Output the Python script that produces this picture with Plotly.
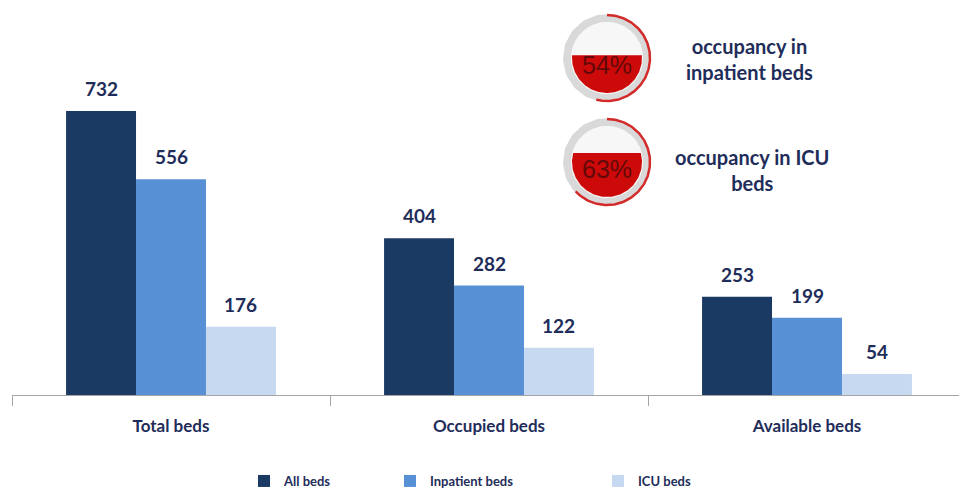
import numpy as np
import plotly.graph_objects as go

# ---- data ----
categories = ["Total beds", "Occupied beds", "Available beds"]
series_names = ["All beds", "Inpatient beds", "ICU beds"]
all_beds = [732, 404, 253]
inpatient_beds = [556, 282, 199]
icu_beds = [176, 122, 54]
occupancy_pct = [54, 63]
occupancy_labels = ["occupancy in<br>inpatient beds", "occupancy in ICU<br>beds"]

# ---- style ----
colors = ["#1b3a63", "#5890d6", "#c6d9f1"]
navy = "#1f2d5a"
FONT = "Lato"
W, H = 959, 493
ML, MR, MT, MB = 12, 0, 0, 98
BARGAP = 0.34

fig = go.Figure()
values = [all_beds, inpatient_beds, icu_beds]
legends = ["legend", "legend2", "legend3"]
for i, (name, vals) in enumerate(zip(series_names, values)):
    fig.add_trace(go.Bar(
        x=categories, y=vals, name=name, marker_color=colors[i],
        marker_line_width=0, legend=legends[i], cliponaxis=False,
    ))

# value labels above bars
w = (1 - BARGAP) / 3
annotations = []
for i, vals in enumerate(values):
    for j, v in enumerate(vals):
        annotations.append(dict(
            x=j + (i - 1) * w, y=v, xref="x", yref="y", text=f"<b>{v}</b>",
            showarrow=False, yanchor="bottom", yshift=9,
            font=dict(family=FONT, size=19, color=navy),
        ))

# ---- gauges (drawn in a pixel-space overlay axis) ----
gauge_centers = [(607, 58), (607, 162)]
label_pos = [(749, 59), (752, 170)]
R_RING, R_RED, R_FILL = 40, 43, 35
for (cx, cy), (lx, ly), pct, lab in zip(gauge_centers, label_pos, occupancy_pct, occupancy_labels):
    t = np.linspace(0, 2 * np.pi, 200)
    # gray ring
    fig.add_trace(go.Scatter(x=cx + R_RING * np.cos(t), y=cy + R_RING * np.sin(t),
                             mode="lines", line=dict(color="#d9d9d9", width=8),
                             xaxis="x2", yaxis="y2", showlegend=False, hoverinfo="skip"))
    # white inner disk
    fig.add_trace(go.Scatter(x=cx + (R_RING - 4) * np.cos(t), y=cy + (R_RING - 4) * np.sin(t),
                             mode="lines", fill="toself", fillcolor="#f7f7f7",
                             line=dict(width=0), xaxis="x2", yaxis="y2",
                             showlegend=False, hoverinfo="skip"))
    # red liquid fill up to pct of height
    level = cy + R_FILL - pct / 100 * 2 * R_FILL  # pixel y (down positive)
    a0 = np.arcsin((level - cy) / R_FILL)
    ang = np.linspace(a0, np.pi - a0, 120)
    fx = cx + R_FILL * np.cos(ang)
    fy = cy + R_FILL * np.sin(ang)
    fig.add_trace(go.Scatter(x=np.append(fx, fx[0]), y=np.append(fy, fy[0]),
                             mode="lines", fill="toself", fillcolor="#cc0a0a",
                             line=dict(width=0), xaxis="x2", yaxis="y2",
                             showlegend=False, hoverinfo="skip"))
    # red progress arc (clockwise from top)
    arc = np.linspace(-np.pi / 2, -np.pi / 2 + 2 * np.pi * pct / 100, 150)
    fig.add_trace(go.Scatter(x=cx + R_RED * np.cos(arc), y=cy + R_RED * np.sin(arc),
                             mode="lines", line=dict(color="#d42a2a", width=2.5),
                             xaxis="x2", yaxis="y2", showlegend=False, hoverinfo="skip"))
    annotations.append(dict(x=cx, y=cy + 7, xref="x2", yref="y2", text=f"{pct}%",
                            showarrow=False, font=dict(family="Liberation Sans", size=25,
                                                       color="rgba(80,8,8,0.85)")))
    annotations.append(dict(x=lx, y=ly, xref="x2", yref="y2",
                            text=f"<b>{lab.replace('<br>', '</b><br><b>')}</b>",
                            showarrow=False, align="center",
                            font=dict(family=FONT, size=20, color=navy)))

# legends positioned individually
def px_to_paper_x(px):
    return (px - ML) / (W - ML - MR)

def py_to_paper_y(py):
    return 1 - (py - MT) / (H - MT - MB)

leg_x = [244, 390, 598]
LEG_Y = 481
leg_common = dict(orientation="h", yanchor="middle", xanchor="left",
                  font=dict(family=FONT, size=13, color=navy, weight="bold"),
                  bgcolor="rgba(0,0,0,0)")

fig.update_layout(
    width=W, height=H,
    margin=dict(l=ML, r=MR, t=MT, b=MB, autoexpand=False),
    paper_bgcolor="white", plot_bgcolor="white",
    barmode="group", bargap=BARGAP, bargroupgap=0,
    xaxis=dict(type="category", range=[-0.5, 2.478], tickson="boundaries",
               ticks="outside", ticklen=10, tickcolor="#a6a6a6", showline=True,
               linecolor="#a6a6a6", linewidth=1, showgrid=False, zeroline=False,
               tickfont=dict(family=FONT, size=17, color=navy, weight="bold"),
               ticklabelstandoff=16),
    yaxis=dict(range=[0, 1018], visible=False, showgrid=False, zeroline=False),
    xaxis2=dict(range=[ML, W - MR], overlaying="x", visible=False, domain=[0, 1]),
    yaxis2=dict(range=[H - MB, MT], overlaying="y", visible=False),
    annotations=annotations,
    legend=dict(x=px_to_paper_x(leg_x[0]), y=py_to_paper_y(LEG_Y), **leg_common),
    legend2=dict(x=px_to_paper_x(leg_x[1]), y=py_to_paper_y(LEG_Y), **leg_common),
    legend3=dict(x=px_to_paper_x(leg_x[2]), y=py_to_paper_y(LEG_Y), **leg_common),
    showlegend=True,
)

fig.write_html("out.html", config={"displayModeBar": False},
               post_script="document.body.style.margin='0';")
